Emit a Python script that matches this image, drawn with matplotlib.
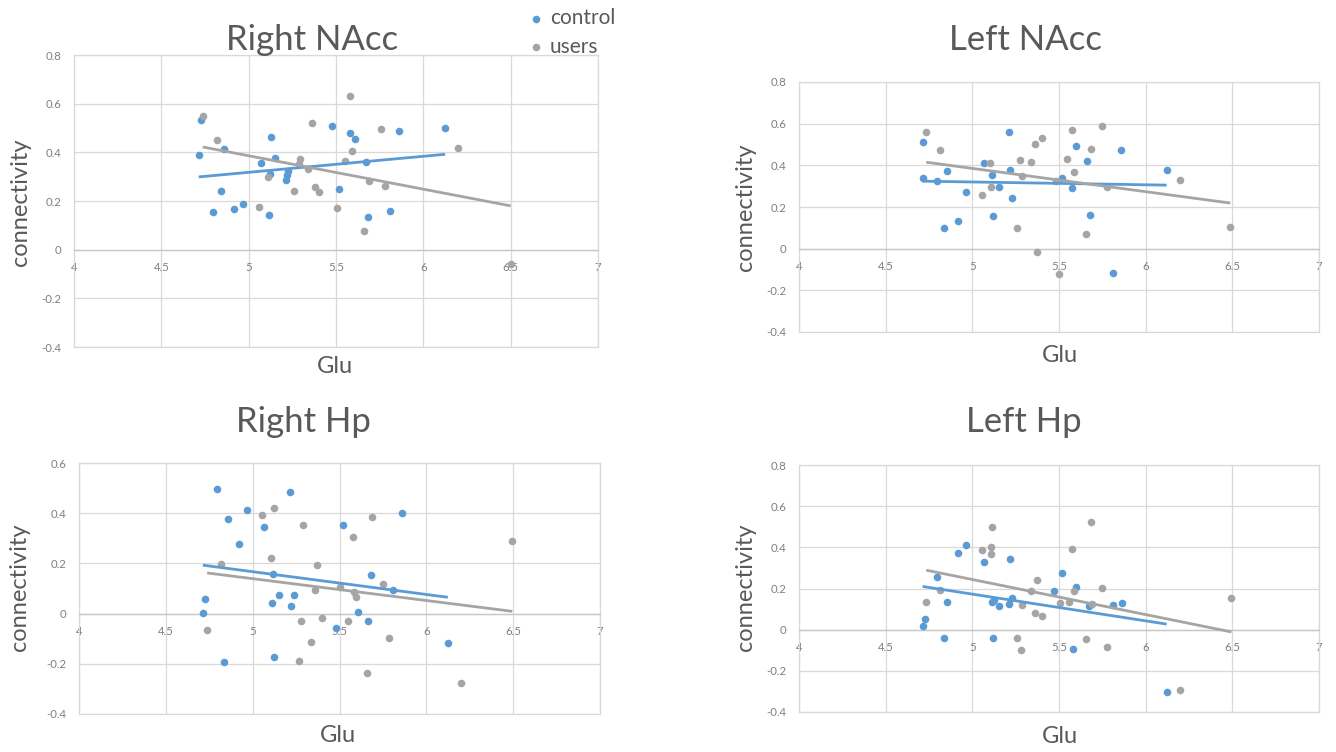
#!/usr/bin/env python3
"""Glu vs connectivity scatter panels (control vs users) with linear trend lines."""

import matplotlib
matplotlib.use("Agg")
import matplotlib.pyplot as plt

plt.rcParams["font.family"] = ["Lato", "DejaVu Sans"]

BLUE = "#5b9bd5"
GRAY = "#a5a5a5"
TEXT = "#595959"
TICK = "#7f7f7f"
GRID = "#d9d9d9"

# ---- Right NAcc ----
rn_ctrl_x = [4.714, 4.728, 4.798, 4.839, 4.859, 4.918, 4.968, 5.068, 5.118, 5.120, 5.125, 5.152,
             5.213, 5.218, 5.224, 5.478, 5.517, 5.578, 5.608, 5.671, 5.683, 5.812, 5.859, 6.125]
rn_ctrl_y = [0.390, 0.533, 0.154, 0.241, 0.412, 0.169, 0.188, 0.358, 0.143, 0.310, 0.464, 0.377,
             0.288, 0.306, 0.324, 0.507, 0.250, 0.479, 0.456, 0.361, 0.133, 0.159, 0.488, 0.502]
rn_user_x = [4.737, 4.816, 5.057, 5.111, 5.259, 5.290, 5.293, 5.342, 5.361, 5.379, 5.401,
             5.503, 5.553, 5.578, 5.592, 5.660, 5.687, 5.757, 5.782, 6.200, 6.500]
rn_user_y = [0.551, 0.449, 0.177, 0.299, 0.241, 0.354, 0.371, 0.333, 0.521, 0.256, 0.235,
             0.173, 0.363, 0.633, 0.405, 0.078, 0.284, 0.497, 0.260, 0.416, -0.060]
rn_ctrl_fit = [0.299, 0.392]   # trend line value at min / max Glu
rn_user_fit = [0.422, 0.180]

# ---- Left NAcc ----
ln_ctrl_x = [4.715, 4.713, 4.794, 4.836, 4.855, 4.916, 4.965, 5.068, 5.114, 5.117, 5.152,
             5.213, 5.220, 5.229, 5.519, 5.575, 5.600, 5.664, 5.678, 5.811, 5.855, 6.121]
ln_ctrl_y = [0.514, 0.340, 0.324, 0.101, 0.372, 0.134, 0.270, 0.413, 0.354, 0.156, 0.298,
             0.560, 0.380, 0.243, 0.340, 0.292, 0.492, 0.423, 0.163, -0.117, 0.474, 0.378]
ln_user_x = [4.734, 4.815, 5.054, 5.100, 5.107, 5.259, 5.273, 5.287, 5.341, 5.362, 5.374, 5.402,
             5.481, 5.498, 5.547, 5.575, 5.586, 5.654, 5.685, 5.750, 5.778, 6.196, 6.488]
ln_user_y = [0.560, 0.476, 0.257, 0.409, 0.298, 0.099, 0.425, 0.350, 0.418, 0.504, -0.014, 0.533,
             0.324, -0.121, 0.431, 0.571, 0.369, 0.072, 0.480, 0.589, 0.294, 0.329, 0.105]
ln_ctrl_fit = [0.324, 0.305]
ln_user_fit = [0.415, 0.219]

# ---- Right Hp ----
rh_ctrl_x = [4.713, 4.724, 4.797, 4.835, 4.860, 4.922, 4.970, 5.068, 5.113, 5.115, 5.122, 5.150,
             5.216, 5.218, 5.236, 5.477, 5.518, 5.607, 5.666, 5.680, 5.810, 5.862, 6.124]
rh_ctrl_y = [0.004, 0.060, 0.498, -0.191, 0.376, 0.277, 0.413, 0.347, 0.041, 0.159, -0.171, 0.073,
             0.485, 0.030, 0.073, -0.056, 0.352, 0.008, -0.029, 0.154, 0.094, 0.399, -0.119]
rh_user_x = [4.738, 4.820, 5.052, 5.106, 5.120, 5.266, 5.277, 5.291, 5.338, 5.359, 5.373, 5.400,
             5.502, 5.550, 5.578, 5.584, 5.593, 5.659, 5.687, 5.753, 5.785, 6.199, 6.495]
rh_user_y = [-0.064, 0.196, 0.391, 0.220, 0.419, -0.189, -0.030, 0.354, -0.115, 0.093, 0.192, -0.016,
             0.106, -0.029, 0.306, 0.087, 0.065, -0.237, 0.385, 0.119, -0.099, -0.275, 0.290]
rh_ctrl_fit = [0.193, 0.065]
rh_user_fit = [0.162, 0.009]

# ---- Left Hp ----
lh_ctrl_x = [4.713, 4.729, 4.794, 4.836, 4.855, 4.916, 4.965, 5.068, 5.114, 5.117, 5.124, 5.152,
             5.213, 5.220, 5.229, 5.472, 5.519, 5.582, 5.600, 5.671, 5.813, 5.862, 6.121]
lh_ctrl_y = [0.016, 0.054, 0.258, -0.040, 0.135, 0.372, 0.412, 0.328, 0.135, -0.040, 0.143, 0.116,
             0.124, 0.345, 0.156, 0.186, 0.275, -0.092, 0.205, 0.114, 0.119, 0.130, -0.302]
lh_user_x = [4.734, 4.815, 5.054, 5.107, 5.107, 5.114, 5.259, 5.280, 5.287, 5.341, 5.362, 5.374,
             5.402, 5.505, 5.556, 5.575, 5.586, 5.657, 5.685, 5.689, 5.750, 5.778, 6.196, 6.495]
lh_user_y = [0.135, 0.191, 0.385, 0.401, 0.370, 0.498, -0.040, -0.099, 0.122, 0.186, 0.079, 0.242,
             0.067, 0.130, 0.135, 0.390, 0.186, -0.045, 0.525, 0.127, 0.204, -0.086, -0.291, 0.156]
lh_ctrl_fit = [0.210, 0.027]
lh_user_fit = [0.289, -0.011]

x_ticks = [4, 4.5, 5, 5.5, 6, 6.5, 7]

# (title, ctrl x, ctrl y, user x, user y, ctrl fit, user fit, y range)
panels = [
    ("Right NAcc", rn_ctrl_x, rn_ctrl_y, rn_user_x, rn_user_y, rn_ctrl_fit, rn_user_fit, (-0.4, 0.8)),
    ("Left NAcc", ln_ctrl_x, ln_ctrl_y, ln_user_x, ln_user_y, ln_ctrl_fit, ln_user_fit, (-0.4, 0.8)),
    ("Right Hp", rh_ctrl_x, rh_ctrl_y, rh_user_x, rh_user_y, rh_ctrl_fit, rh_user_fit, (-0.4, 0.6)),
    ("Left Hp", lh_ctrl_x, lh_ctrl_y, lh_user_x, lh_user_y, lh_ctrl_fit, lh_user_fit, (-0.4, 0.8)),
]

# axes rectangles in figure pixels: left, top, right, bottom
W, H = 1336, 752
boxes = [(74, 55, 598, 347), (799, 82, 1319, 332), (79, 463, 600, 714), (799, 465, 1319, 712)]
title_pos = [(312, 50), (1025, 50), (303, 432), (1024, 432)]
ylabel_pos = [(21, 202), (745, 207), (20, 587), (745, 587)]
xlabel_pos = [(335, 373), (1060, 362), (338, 742), (1060, 743)]


def fmt(v):
    return f"{round(v, 2):g}"


def main():
    fig = plt.figure(figsize=(W / 100, H / 100), dpi=100)

    handles = []
    for i, (title, cx, cy, ux, uy, cfit, ufit, yr) in enumerate(panels):
        l, t, r, b = boxes[i]
        ax = fig.add_axes([l / W, 1 - b / H, (r - l) / W, (b - t) / H])
        ax.set_xlim(4, 7)
        ax.set_ylim(*yr)
        y_ticks = [round(yr[0] + 0.2 * k, 2) for k in range(int(round((yr[1] - yr[0]) / 0.2)) + 1)]
        ax.set_xticks(x_ticks)
        ax.set_yticks(y_ticks)
        ax.set_xticklabels([fmt(v) for v in x_ticks])
        ax.set_yticklabels([fmt(v) for v in y_ticks])
        ax.tick_params(length=0, labelsize=8.2, labelcolor=TICK)
        ax.tick_params(axis="x", pad=9)
        ax.tick_params(axis="y", pad=9)
        ax.grid(True, color=GRID, lw=0.9)
        ax.set_axisbelow(True)
        for side in ("left", "right", "top"):
            ax.spines[side].set_color(GRID)
            ax.spines[side].set_linewidth(0.9)
        ax.spines["bottom"].set_position(("data", 0))
        ax.spines["bottom"].set_color("#c8c8c8")
        ax.spines["bottom"].set_linewidth(1.0)
        ax.axhline(yr[0], color=GRID, lw=0.9, clip_on=False, zorder=0)

        h1 = ax.scatter(cx, cy, s=30, color=BLUE, zorder=3, label="control", linewidths=0)
        h2 = ax.scatter(ux, uy, s=30, color=GRAY, zorder=3, label="users", linewidths=0)
        ax.plot([min(cx), max(cx)], cfit, color=BLUE, lw=2.0, zorder=4, solid_capstyle="butt")
        ax.plot([min(ux), max(ux)], ufit, color=GRAY, lw=2.0, zorder=4, solid_capstyle="butt")
        if i == 0:
            handles = [h1, h2]

        tx, ty = title_pos[i]
        fig.text(tx / W, 1 - ty / H, title, ha="center", va="baseline", fontsize=25, color=TEXT)
        yx, yy = ylabel_pos[i]
        fig.text(yx / W, 1 - yy / H, "connectivity", ha="center", va="center",
                 rotation=90, fontsize=17, color=TEXT)
        gx, gy = xlabel_pos[i]
        fig.text(gx / W, 1 - gy / H, "Glu", ha="center", va="baseline", fontsize=17, color=TEXT)

    fig.legend(handles, ["control", "users"], loc="upper left",
               bbox_to_anchor=(531 / W, 1 - 8 / H), frameon=False, fontsize=15,
               labelcolor=TEXT, handlelength=0.5, handletextpad=0.4, labelspacing=0.42,
               borderaxespad=0, borderpad=0, markerscale=1.0)

    fig.savefig("out.png", dpi=100)


if __name__ == "__main__":
    main()
